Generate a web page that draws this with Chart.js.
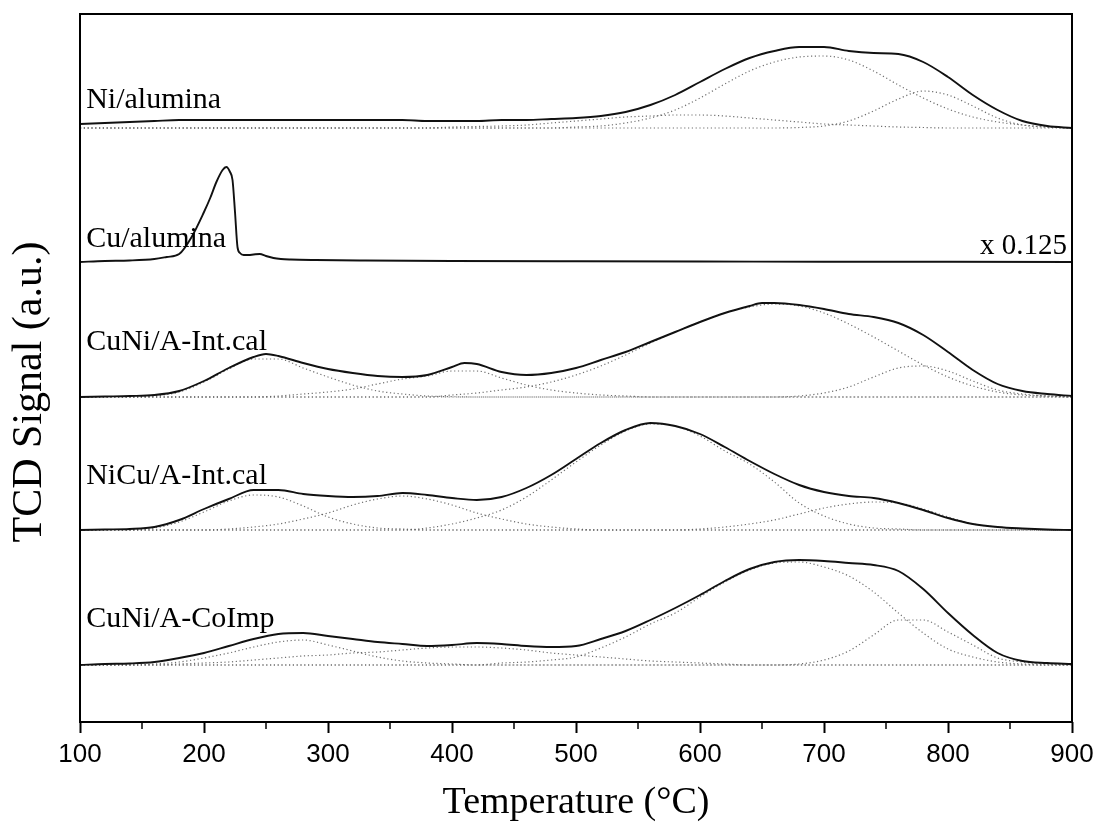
<!DOCTYPE html>
<html>
<head>
<meta charset="utf-8">
<script src="https://cdn.jsdelivr.net/npm/chart.js@4.4.0/dist/chart.umd.min.js"></script>
<style>
  body { margin: 0; background: #fff; }
  #wrap { width: 1096px; height: 822px; }
</style>
</head>
<body>
<div id="wrap"><canvas id="tpr-chart"></canvas></div>
<script>
// shared temperature grid for the deconvoluted H2-TPR profiles (°C)
const temps = [100,120,140,160,180,200,220,240,260,280,300,320,340,360,380,400,420,440,460,480,
               500,520,540,560,580,600,620,640,660,680,700,720,740,760,780,800,820,840,860,880,900];

// Cu/alumina has a sharp peak, so it gets a finer grid
const cuTemps = [100,120,140,160,170,180,190,200,205,210,215,218,221,223,225,227,229,232,236,240,
                 245,250,256,262,270,290,330,400,500,600,700,800,900];

// CuNi/A-Int.cal measured curve, a few extra points around its small peaks
const cuniIntTemps = [100,120,140,160,180,200,220,240,250,260,280,300,320,340,360,380,400,410,420,440,
                      460,480,500,520,540,560,580,600,620,640,650,660,680,700,720,740,760,780,800,820,
                      840,860,880,900];

// signal heights above each trace's own baseline
const niMain  = [4,5,6,7,8,8,8,8,8,8,8,8,8,8,7,7,7,8,8,9,10,12,16,23,33,46,59,70,77,81,81,77,75,74,66,51,33,18,7,2,0];
const niFit1  = [0,0,0,0,0,0,0,0,0,0,0,0,0,0,0,0,0,0,0,0,1,2,5,10,18,30,44,57,66,71,72,68,57,43,30,19,11,6,3,1,0];
const niFit2  = [0,0,0,0,0,0,0,0,0,0,0,0,0,0,0,0,0,0,0,0,0,0,0,0,0,0,0,0,0,0.5,2,7,17,29,37,33,22,10,3,1,0];
const niFit3  = [0,0,0,0,0,0,0,0,0,0,0,0,0,0,0,1,1.5,2,3,5,7,9,11,12,13,13,12,10,8,6,4,3,2,1,0.5,0,0,0,0,0,0];

const cuMain  = [0,1,1.5,3,5,8,25,50,64,80,92,95,90,82,50,15,9,7,7,7.5,8,6,4,3,2.5,2,1.5,1,0.7,0.5,0.3,0.2,0];

const cuniIntMain = [0,0.5,1,2,6,16,29,40,43,41,34,28,24,21,20,22,30,34,33,25,22,24,29,37,45,55,65,75,84,91,94,94,92,88,83,80,74,62,45,27,13,6,3,1];
const cuniIntFit1 = [0,0,0,1,5,15,28,38,38,29,20,12,6,3,1,0.3,0,0,0,0,0,0,0,0,0,0,0,0,0,0,0,0,0,0,0,0,0,0,0,0,0];
const cuniIntFit2 = [0,0,0,0,0,0,0,0,1,3,5,8,13,18,21,26,26,19,12,7,4,2,1,0,0,0,0,0,0,0,0,0,0,0,0,0,0,0,0,0,0];
const cuniIntFit3 = [0,0,0,0,0,0,0,0,0,0,0,0,0,0,0,2,4,7,10,15,22,31,42,54,65,75,84,90,93,91,84,73,60,46,32,20,11,5,2,1,0];
const cuniIntFit4 = [0,0,0,0,0,0,0,0,0,0,0,0,0,0,0,0,0,0,0,0,0,0,0,0,0,0,0,0,0,1,4,10,20,29,31,26,16,7,3,1,0];

const nicuIntMain = [0,0.5,1,3,10,21,31,40,40,36,34,33,34,37,35,32,30,33,42,55,71,87,100,107,104,96,83,69,56,45,38,34,32,27,20,12,6,3,1.5,0.5,0];
const nicuIntFit1 = [0,0,0,2,8,18,29,35,33,24,13,6,2,1,0,0,0,0,0,0,0,0,0,0,0,0,0,0,0,0,0,0,0,0,0,0,0,0,0,0,0];
const nicuIntFit2 = [0,0,0,0,0,0,1,3,6,11,17,25,31,34,31,25,17,11,6,3,1,0,0,0,0,0,0,0,0,0,0,0,0,0,0,0,0,0,0,0,0];
const nicuIntFit3 = [0,0,0,0,0,0,0,0,0,0,0,0,0,0,2,6,12,20,33,50,68,85,99,106,104,94,79,66,48,27,14,6,2,1,0,0,0,0,0,0,0];
const nicuIntFit4 = [0,0,0,0,0,0,0,0,0,0,0,0,0,0,0,0,0,0,0,0,0,0,0,0,0,1,3,6,10,16,22,26,28,27,21,13,6,3,1,0,0];

const cuniCoMain = [0,1,1.5,3,7,12,19,26,31,32,29,26,23,21,19,20,22,21,19,18,19,26,34,45,57,70,84,96,103,105,104,102,100,94,76,52,30,12,4,2,1];
const cuniCoFit1 = [0,0,0,1,3,7,12,18,23,25,20,14,8,4,2,1,0,0,0,0,0,0,0,0,0,0,0,0,0,0,0,0,0,0,0,0,0,0,0,0,0];
const cuniCoFit2 = [0,0,0,0,1,2,3,5,7,9,10,12,13,15,17,18,18,17,15,12,10,8,6,4,3,2,1,0,0,0,0,0,0,0,0,0,0,0,0,0,0];
const cuniCoFit3 = [0,0,0,0,0,0,0,0,0,0,0,0,0,0,0,0,0,2,3,5,8,17,28,41,52,68,83,95,102,103,98,89,73,52,32,16,8,3,1,0,0];
const cuniCoFit4 = [0,0,0,0,0,0,0,0,0,0,0,0,0,0,0,0,0,0,0,0,0,0,0,0,0,0,0,0,0,1,5,14,30,45,45,33,20,7,3,1,0];

const sampleNames = ['Ni/alumina', 'Cu/alumina', 'CuNi/A-Int.cal', 'NiCu/A-Int.cal', 'CuNi/A-CoImp'];
// vertical shift that stacks each profile in the figure
const traceOffsets = [594, 460, 325, 192, 57];
const labelLift = [20, 15, 47, 46, 38];

function toPoints(xs, ys, base){
  return xs.map((t, i) => ({x: t, y: base + ys[i]}));
}

function mainLine(xs, ys, base){
  return {
    data: toPoints(xs, ys, base),
    borderColor: '#111',
    borderWidth: 1.9,
    pointRadius: 0,
    cubicInterpolationMode: 'monotone',
    order: 0
  };
}

function fitLine(ys, base){
  return {
    data: toPoints(temps, ys, base),
    borderColor: 'rgba(95,95,95,0.9)',
    borderWidth: 1.2,
    borderDash: [1.2, 2.6],
    pointRadius: 0,
    cubicInterpolationMode: 'monotone',
    order: 1
  };
}

const datasets = [
  mainLine(temps, niMain, traceOffsets[0]),
  fitLine(niFit1, traceOffsets[0]),
  fitLine(niFit2, traceOffsets[0]),
  fitLine(niFit3, traceOffsets[0]),

  mainLine(cuTemps, cuMain, traceOffsets[1]),

  mainLine(cuniIntTemps, cuniIntMain, traceOffsets[2]),
  fitLine(cuniIntFit1, traceOffsets[2]),
  fitLine(cuniIntFit2, traceOffsets[2]),
  fitLine(cuniIntFit3, traceOffsets[2]),
  fitLine(cuniIntFit4, traceOffsets[2]),

  mainLine(temps, nicuIntMain, traceOffsets[3]),
  fitLine(nicuIntFit1, traceOffsets[3]),
  fitLine(nicuIntFit2, traceOffsets[3]),
  fitLine(nicuIntFit3, traceOffsets[3]),
  fitLine(nicuIntFit4, traceOffsets[3]),

  mainLine(temps, cuniCoMain, traceOffsets[4]),
  fitLine(cuniCoFit1, traceOffsets[4]),
  fitLine(cuniCoFit2, traceOffsets[4]),
  fitLine(cuniCoFit3, traceOffsets[4]),
  fitLine(cuniCoFit4, traceOffsets[4])
];

// box around the plot, short minor ticks, sample names and the y title
const decor = {
  id: 'decor',
  afterDatasetsDraw(chart){
    const {ctx, chartArea, scales: {x, y}} = chart;
    ctx.save();
    ctx.fillStyle = '#000';
    ctx.font = '30px "Liberation Serif"';
    ctx.textBaseline = 'alphabetic';
    ctx.textAlign = 'left';
    sampleNames.forEach((name, i) => {
      ctx.fillText(name, x.getPixelForValue(105), y.getPixelForValue(traceOffsets[i] + labelLift[i]));
    });
    ctx.font = '29px "Liberation Serif"';
    ctx.textAlign = 'right';
    ctx.fillText('x 0.125', x.getPixelForValue(896), y.getPixelForValue(traceOffsets[1] + 8));

    // y title sits a little below the middle of the axis
    ctx.translate(30, y.getPixelForValue(330));
    ctx.rotate(-Math.PI / 2);
    ctx.font = '42px "Liberation Serif"';
    ctx.textAlign = 'center';
    ctx.textBaseline = 'middle';
    ctx.fillText('TCD Signal (a.u.)', 0, 0);
    ctx.restore();
  },
  afterDraw(chart){
    const {ctx, chartArea, scales: {x}} = chart;
    ctx.save();
    ctx.strokeStyle = '#000';
    ctx.lineWidth = 2;
    ctx.strokeRect(chartArea.left, chartArea.top, chartArea.right - chartArea.left, chartArea.bottom - chartArea.top);
    ctx.lineWidth = 1.5;
    const ticks = x.ticks;
    for (let i = 0; i < ticks.length - 1; i++) {
      const px = x.getPixelForValue((ticks[i].value + ticks[i + 1].value) / 2);
      ctx.beginPath();
      ctx.moveTo(px, chartArea.bottom);
      ctx.lineTo(px, chartArea.bottom + 7);
      ctx.stroke();
    }
    ctx.restore();
  }
};

new Chart(document.getElementById('tpr-chart'), {
  type: 'line',
  data: { datasets: datasets },
  options: {
    responsive: true,
    maintainAspectRatio: false,
    animation: false,
    layout: { padding: { top: 14, right: 24, left: 0, bottom: 0 } },
    plugins: { legend: { display: false }, tooltip: { enabled: false } },
    scales: {
      x: {
        type: 'linear',
        min: 100,
        max: 900,
        ticks: {
          stepSize: 100,
          color: '#000',
          padding: 6,
          font: { family: 'Liberation Sans', size: 26 }
        },
        grid: { drawOnChartArea: false, drawTicks: true, tickLength: 11, tickWidth: 2, color: '#000' },
        border: { display: false },
        title: {
          display: true,
          text: 'Temperature (°C)',
          color: '#000',
          padding: { top: 0, bottom: 0 },
          font: { family: 'Liberation Serif', size: 38, lineHeight: 1 }
        },
        afterFit(scale){
          scale.height = 100;
          // the last label may hang into the right margin
          scale.paddingRight = 0;
        }
      },
      y: {
        min: 0,
        max: 708,
        ticks: { display: false },
        grid: { display: false },
        border: { display: false },
        title: { display: false },
        afterFit(scale){ scale.width = 80; }
      }
    }
  },
  plugins: [decor]
});
</script>
</body>
</html>
